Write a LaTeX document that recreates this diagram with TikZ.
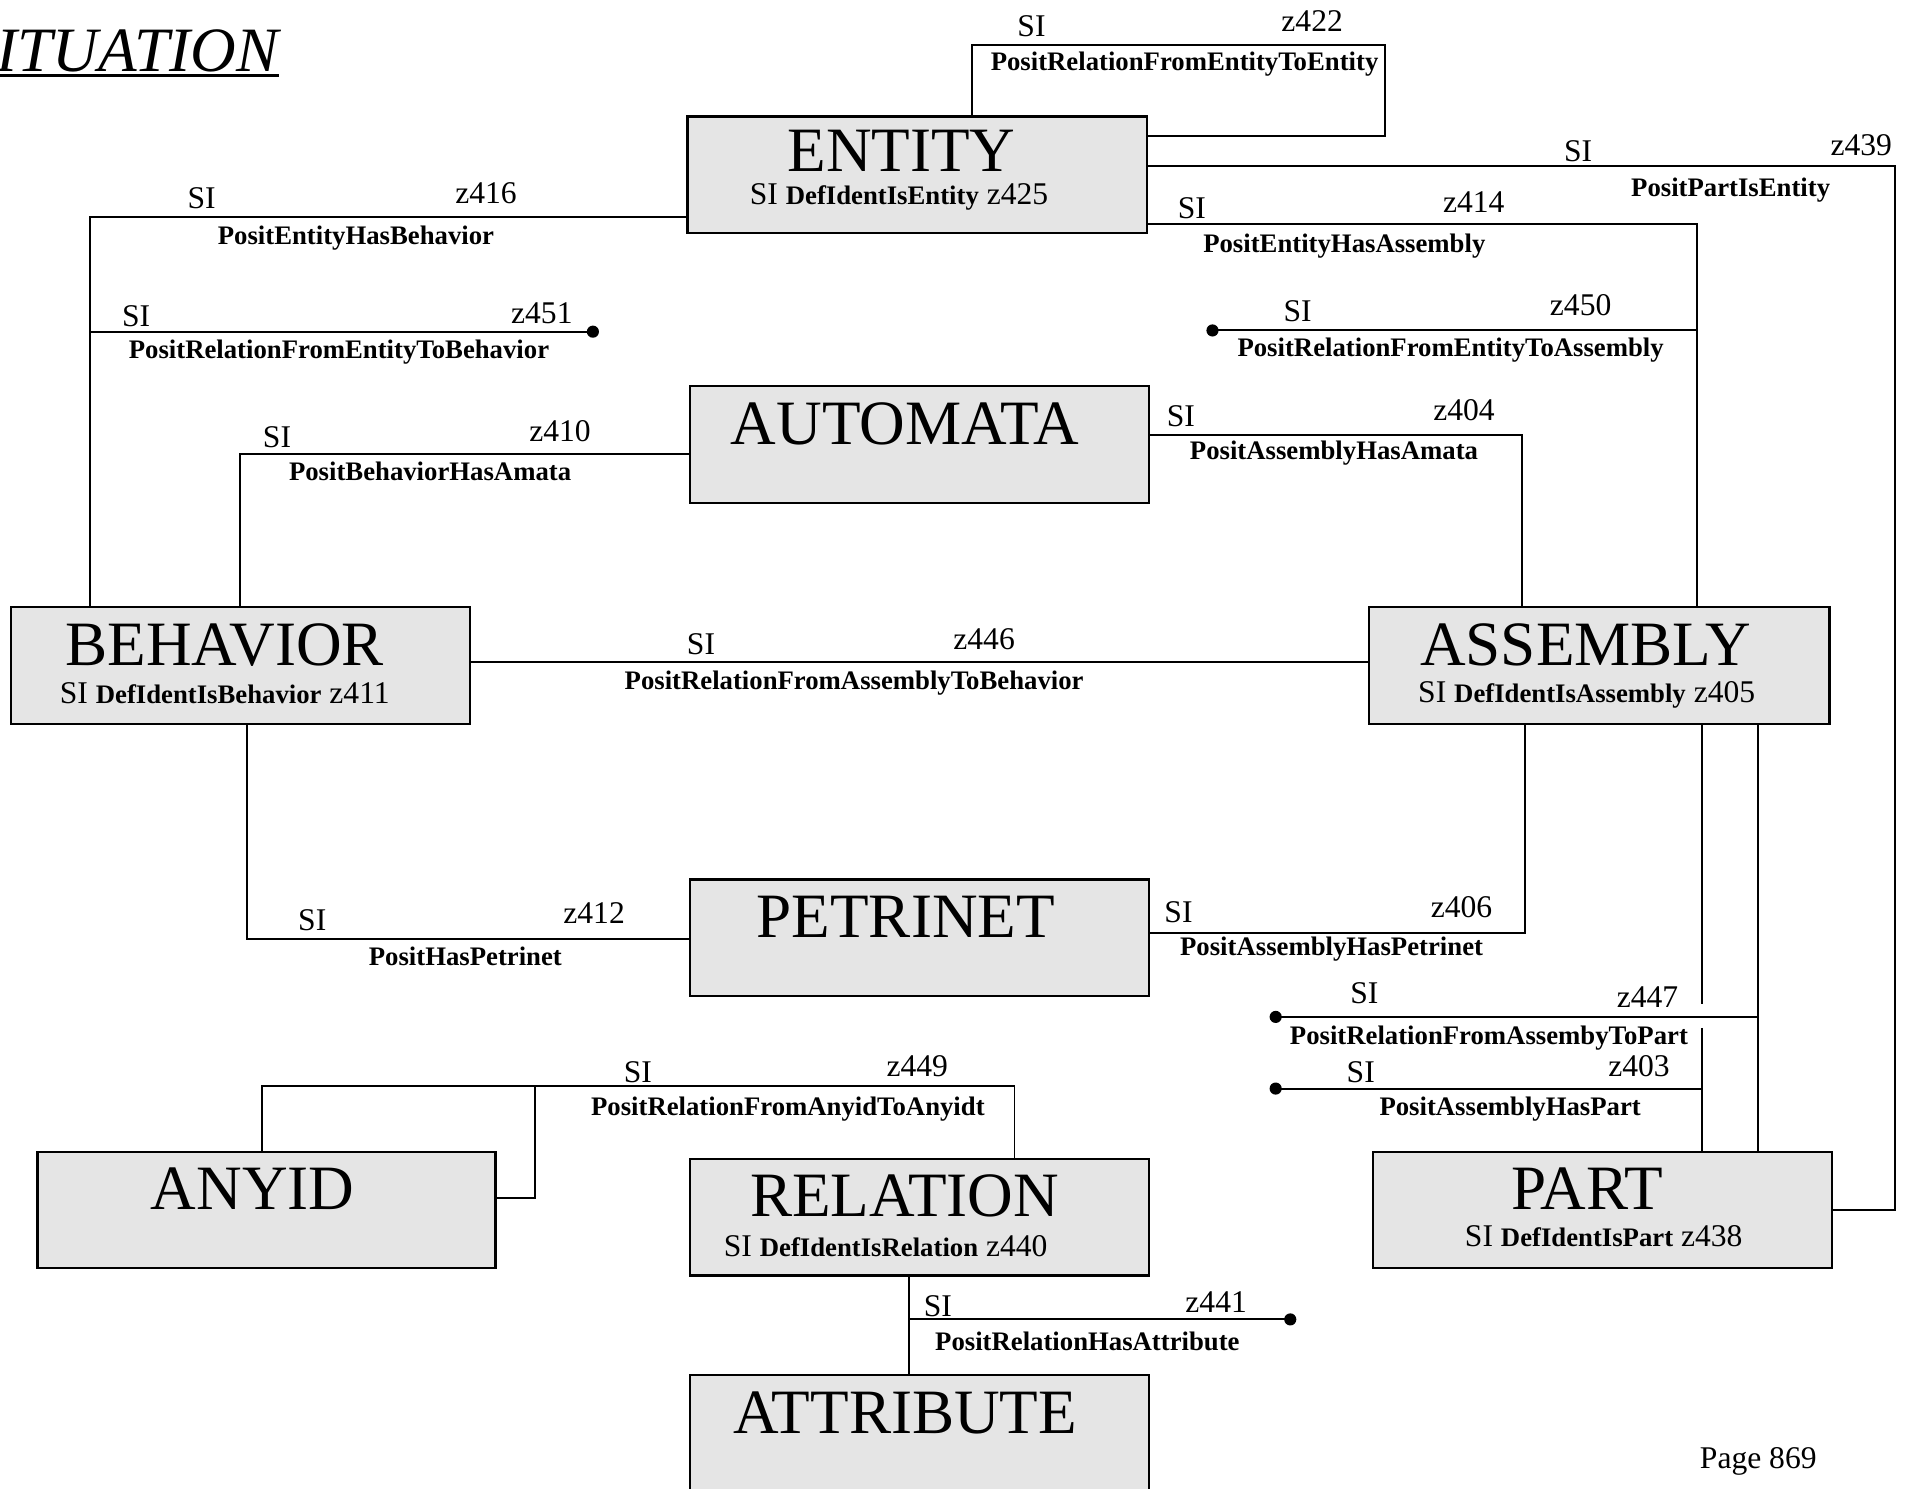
\documentclass[tikz,border=0pt]{standalone}
\usepackage{fontspec}
\setmainfont{Liberation Serif}
\definecolor{boxgray}{RGB}{229,229,229}
\tikzset{
  box/.style={draw, line width=1.8pt, fill=boxgray, anchor=north west, inner sep=0pt, minimum width=378pt, minimum height=96pt},
  conn/.style={line width=1.6pt},
  lab/.style={anchor=base, inner sep=0pt},
  reg/.style={lab, font=\fontsize{26}{30}\selectfont},
  bld/.style={lab, font=\fontsize{22}{26}\selectfont\bfseries},
  big/.style={lab, font=\fontsize{52}{60}\selectfont, text height=36pt, text depth=0pt},
  sub/.style={lab, font=\fontsize{26}{30}\selectfont, text height=17pt, text depth=5pt},
  dotnode/.style={circle, fill=black, inner sep=0pt, minimum size=10pt},
}
\newcommand{\bsub}[1]{{\fontsize{22}{26}\selectfont\bfseries #1}}
\begin{document}
\begin{tikzpicture}[x=1pt,y=-1pt]
\clip (0,0) rectangle (1568,1225);
\fill[white] (0,0) rectangle (1568,1225);

% title
\node[anchor=base west, inner sep=0pt, font=\fontsize{52}{60}\selectfont\itshape] (title) at (-3,59) {ITUATION};
\draw[line width=2pt] ([yshift=-3pt]title.base west) -- ([yshift=-3pt]title.base east);

% boxes
\node[box] (entity) at (565,95) {};
\node[box] (automata) at (567,317) {};
\node[box] (behavior) at (8,499) {};
\node[box, minimum width=379pt] (assembly) at (1126,499) {};
\node[box] (petrinet) at (567,723) {};
\node[box, minimum width=377pt] (anyid) at (30,947) {};
\node[box] (relation) at (567,953) {};
\node[box] (part) at (1129,947) {};
\node[box, minimum height=110pt] (attribute) at (567,1131) {};

% box texts
\node[big] (entityT) at (742,141.5) {ENTITY};
\node[sub] (entityS) at (740,168.5) {SI \bsub{DefIdentIsEntity} z425};
\node[big] (automataT) at (745,365.5) {AUTOMATA};
\node[big] (behaviorT) at (185,547.5) {BEHAVIOR};
\node[sub] (behaviorS) at (185,579) {SI \bsub{DefIdentIsBehavior} z411};
\node[big] (assemblyT) at (1305,547.5) {ASSEMBLY};
\node[sub] (assemblyS) at (1306,578) {SI \bsub{DefIdentIsAssembly} z405};
\node[big] (petrinetT) at (745.5,771.5) {PETRINET};
\node[big] (anyidT) at (208,995.5) {ANYID};
\node[big] (relationT) at (744.5,1001.5) {RELATION};
\node[sub] (relationS) at (729,1034) {SI \bsub{DefIdentIsRelation} z440};
\node[big] (partT) at (1306.5,995.5) {PART};
\node[sub] (partS) at (1320,1026) {SI \bsub{DefIdentIsPart} z438};
\node[big] (attributeT) at (745,1179.5) {ATTRIBUTE};

% coordinates
\coordinate (sl1) at (800,37);
\coordinate (sl2) at (1140,37);
\coordinate (sl3) at (1140,112);
\coordinate (pe1) at (1560,137);
\coordinate (pe2) at (1560,996);
\coordinate (ea1) at (1397,184.5);
\coordinate (ea2) at (1397,272);
\coordinate (aa1) at (1253,358);
\coordinate (eb1) at (74,179);
\coordinate (eb2) at (74,273);
\coordinate (ba1) at (197.5,374);
\coordinate (ab1) at (0,545);
\coordinate (hp1) at (203,773);
\coordinate (ap1) at (1255,768);
\coordinate (v1) at (1401,826);
\coordinate (v1b) at (1401,846);
\coordinate (hpt) at (1401,896);
\coordinate (v2) at (1447,837);
\coordinate (an1) at (216,894);
\coordinate (an2) at (835,894);
\coordinate (an3) at (440,986);
\coordinate (an4) at (440,894);
\coordinate (ra1) at (748,1000);
\coordinate (ra2) at (748,1086);

% dots
\node[dotnode] (dEA) at (998,272) {};
\node[dotnode] (dEB) at (488,273) {};
\node[dotnode] (dAP) at (1050,837) {};
\node[dotnode] (dHP) at (1050,896) {};
\node[dotnode] (dRA) at (1062,1086) {};

% connectors
\draw[conn] (entity.north -| sl1) -- (sl1) -- (sl2) -- (sl3) -- (entity.east |- sl3);
\draw[conn] (entity.east |- pe1) -- (pe1) -- (pe2) -- (part.east |- pe2);
\draw[conn] (entity.east |- ea1) -- (ea1) -- (assembly.north -| ea1);
\draw[conn] (dEA.center) -- (ea2);
\draw[conn] (automata.east |- aa1) -- (aa1) -- (assembly.north -| aa1);
\draw[conn] (entity.west |- eb1) -- (eb1) -- (behavior.north -| eb1);
\draw[conn] (eb2) -- (dEB.center);
\draw[conn] (behavior.north -| ba1) -- (ba1) -- (automata.west |- ba1);
\draw[conn] (behavior.east |- ab1) -- (assembly.west |- ab1);
\draw[conn] (behavior.south -| hp1) -- (hp1) -- (petrinet.west |- hp1);
\draw[conn] (petrinet.east |- ap1) -- (ap1) -- (assembly.south -| ap1);
\draw[conn] (assembly.south -| v1) -- (v1);
\draw[conn] (v1b) -- (part.north -| v1b);
\draw[conn] (assembly.south -| v2) -- (part.north -| v2);
\draw[conn] (dAP.center) -- (v2);
\draw[conn] (dHP.center) -- (hpt);
\draw[conn] (anyid.north -| an1) -- (an1) -- (an2) -- (relation.north -| an2);
\draw[conn] (anyid.east |- an3) -- (an3) -- (an4);
\draw[conn] (relation.south -| ra1) -- (attribute.north -| ra1);
\draw[conn] (ra2) -- (dRA.center);

% connector labels
\node[reg] (s1) at (849,30) {SI};
\node[reg] (z1) at (1080,26) {z422};
\node[bld] (n1) at (975,58) {PositRelationFromEntityToEntity};

\node[reg] (s2) at (1299,132.6) {SI};
\node[reg] (z2) at (1532,128) {z439};
\node[bld] (n2) at (1424.5,161.5) {PositPartIsEntity};

\node[reg] (s3) at (981,180) {SI};
\node[reg] (z3) at (1213,175) {z414};
\node[bld] (n3) at (1106.5,207.5) {PositEntityHasAssembly};

\node[reg] (s4) at (1068,265) {SI};
\node[reg] (z4) at (1301,260) {z450};
\node[bld] (n4) at (1194,293.5) {PositRelationFromEntityToAssembly};

\node[reg] (s5) at (972,351) {SI};
\node[reg] (z5) at (1205,346) {z404};
\node[bld] (n5) at (1098,378.5) {PositAssemblyHasAmata};

\node[reg] (s6) at (166,171.6) {SI};
\node[reg] (z6) at (400,167.6) {z416};
\node[bld] (n6) at (293,201) {PositEntityHasBehavior};

\node[reg] (s7) at (112,269) {SI};
\node[reg] (z7) at (446,266) {z451};
\node[bld] (n7) at (279,295) {PositRelationFromEntityToBehavior};

\node[reg] (s8) at (228,368) {SI};
\node[reg] (z8) at (461,363.6) {z410};
\node[bld] (n8) at (354,395.5) {PositBehaviorHasAmata};

\node[reg] (s9) at (577,538.6) {SI};
\node[reg] (z9) at (810,534.6) {z446};
\node[bld] (n9) at (703,567.5) {PositRelationFromAssemblyToBehavior};

\node[reg] (s10) at (257,766) {SI};
\node[reg] (z10) at (489,760) {z412};
\node[bld] (n10) at (383,794.5) {PositHasPetrinet};

\node[reg] (s11) at (970,759) {SI};
\node[reg] (z11) at (1203,755) {z406};
\node[bld] (n11) at (1096,786.5) {PositAssemblyHasPetrinet};

\node[reg] (s12) at (1123,826) {SI};
\node[reg] (z12) at (1356,829) {z447};
\node[bld] (n12) at (1225.5,859.5) {PositRelationFromAssembyToPart};

\node[reg] (s13) at (1120,891) {SI};
\node[reg] (z13) at (1349,886) {z403};
\node[bld] (n13) at (1243,918.5) {PositAssemblyHasPart};

\node[reg] (s14) at (525,891) {SI};
\node[reg] (z14) at (755,886) {z449};
\node[bld] (n14) at (648.5,918.5) {PositRelationFromAnyidToAnyidt};

\node[reg] (s15) at (772,1084) {SI};
\node[reg] (z15) at (1001,1080) {z441};
\node[bld] (n15) at (895,1111.5) {PositRelationHasAttribute};

% page number
\node[reg, anchor=base west] (page) at (1399,1209) {Page 869};
\end{tikzpicture}
\end{document}
